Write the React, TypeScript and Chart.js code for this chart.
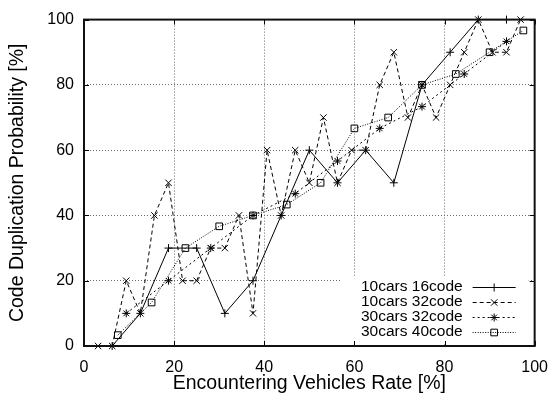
import React, { useEffect, useRef } from 'react';
import { Chart, registerables } from 'chart.js';

Chart.register(...registerables);

const FONT = '"Liberation Sans", Arial, Helvetica, sans-serif';

// Axis ticks
const xTicks = [0, 20, 40, 60, 80, 100];
const yTicks = [0, 20, 40, 60, 80, 100];
const xTitle = 'Encountering Vehicles Rate [%]';
const yTitle = 'Code Duplication Probability [%]';

// Series labels
const seriesLabels = ['10cars 16code', '10cars 32code', '30cars 32code', '30cars 40code'];

// 10cars 16code
const s1X = [6.25, 12.5, 18.75, 25, 31.25, 37.5, 43.75, 50, 56.25, 62.5, 68.75, 75, 81.25, 87.5, 93.75];
const s1Y = [0, 10, 30, 30, 10, 20, 40, 60, 50, 60, 50, 80, 90, 100, 100];

// 10cars 32code
const s2X = [3.125, 6.25, 9.375, 12.5, 15.625, 18.75, 21.875, 25, 28.125, 31.25, 34.375, 37.5, 40.625, 43.75, 46.875, 50,
  53.125, 56.25, 59.375, 62.5, 65.625, 68.75, 71.875, 75, 78.125, 81.25, 84.375, 87.5, 90.625, 93.75, 96.875];
const s2Y = [0, 0, 20, 10, 40, 50, 20, 20, 30, 30, 40, 10, 60, 40, 60, 50,
  70, 50, 60, 60, 80, 90, 70, 80, 70, 80, 90, 100, 90, 90, 100];

// 30cars 32code
const s3X = [9.375, 18.75, 28.125, 37.5, 46.875, 56.25, 65.625, 75, 84.375, 93.75];
const s3Y = [10, 20, 30, 40, 46.67, 56.67, 66.67, 73.33, 83.33, 93.33];

// 30cars 40code
const s4X = [7.5, 15, 22.5, 30, 37.5, 45, 52.5, 60, 67.5, 75, 82.5, 90, 97.5];
const s4Y = [3.33, 13.33, 30, 36.67, 40, 43.33, 50, 66.67, 70, 80, 83.33, 90, 96.67];

const pts = (xs: number[], ys: number[]) => xs.map((x, i) => ({ x, y: ys[i] }));

const dashes = [[], [4, 3], [2, 3], [1, 1.5]];
const styles = ['cross', 'crossRot', 'star', 'rect'];
const radii = [4, 4.5, 4, 4.7];

function drawMarker(ctx: CanvasRenderingContext2D, kind: string, x: number, y: number, r: number) {
  ctx.save();
  ctx.setLineDash([]);
  ctx.lineWidth = 1;
  ctx.strokeStyle = '#000';
  ctx.beginPath();
  if (kind === 'cross' || kind === 'star') {
    ctx.moveTo(x - r, y); ctx.lineTo(x + r, y);
    ctx.moveTo(x, y - r); ctx.lineTo(x, y + r);
  }
  if (kind === 'crossRot' || kind === 'star') {
    const d = r * Math.SQRT1_2;
    ctx.moveTo(x - d, y - d); ctx.lineTo(x + d, y + d);
    ctx.moveTo(x - d, y + d); ctx.lineTo(x + d, y - d);
  }
  if (kind === 'rect') {
    const s = r * Math.SQRT1_2;
    ctx.rect(x - s, y - s, 2 * s, 2 * s);
  }
  ctx.stroke();
  ctx.restore();
}

const gnuplotFrame = {
  id: 'gnuplotFrame',
  beforeDatasetsDraw(chart: any) {
    const { ctx, chartArea: a } = chart;
    ctx.save();
    ctx.fillStyle = '#fff';
    ctx.fillRect(a.right - 194, a.bottom - 69, 188, 67);
    ctx.restore();
  },
  afterDatasetsDraw(chart: any) {
    const { ctx, chartArea: a, scales } = chart;
    ctx.save();
    // inward ticks
    ctx.strokeStyle = '#000';
    ctx.lineWidth = 1;
    ctx.beginPath();
    xTicks.forEach((v) => {
      const px = Math.round(scales.x.getPixelForValue(v)) + 0.5;
      ctx.moveTo(px, a.bottom); ctx.lineTo(px, a.bottom - 5);
      ctx.moveTo(px, a.top); ctx.lineTo(px, a.top + 5);
    });
    yTicks.forEach((v) => {
      const py = Math.round(scales.y.getPixelForValue(v)) + 0.5;
      ctx.moveTo(a.left, py); ctx.lineTo(a.left + 5, py);
      ctx.moveTo(a.right, py); ctx.lineTo(a.right - 5, py);
    });
    ctx.stroke();
    // border
    ctx.lineWidth = 2;
    ctx.strokeStyle = '#111';
    ctx.strokeRect(a.left, a.top, a.right - a.left, a.bottom - a.top);
    // key
    ctx.font = `15.5px ${FONT}`;
    ctx.fillStyle = '#000';
    ctx.textAlign = 'right';
    ctx.textBaseline = 'middle';
    seriesLabels.forEach((lab, i) => {
      const y = a.bottom - 59 + i * 15;
      ctx.fillText(lab, a.right - 72, y);
      ctx.save();
      ctx.setLineDash(dashes[i]);
      ctx.lineWidth = 1;
      ctx.strokeStyle = '#000';
      ctx.beginPath();
      ctx.moveTo(a.right - 62, y + 0.5);
      ctx.lineTo(a.right - 19, y + 0.5);
      ctx.stroke();
      ctx.restore();
      drawMarker(ctx, styles[i], a.right - 40.5, y + 0.5, radii[i]);
    });
    ctx.restore();
  },
};

export default function App() {
  const ref = useRef<HTMLCanvasElement>(null);
  useEffect(() => {
    if (!ref.current) return;
    const data = [pts(s1X, s1Y), pts(s2X, s2Y), pts(s3X, s3Y), pts(s4X, s4Y)];
    const chart = new Chart(ref.current, {
      type: 'line',
      data: {
        datasets: data.map((d, i) => ({
          label: seriesLabels[i],
          data: d,
          borderColor: '#000',
          borderWidth: 1,
          borderDash: dashes[i],
          pointStyle: styles[i] as any,
          pointRadius: radii[i],
          pointBorderWidth: 1,
          pointBorderColor: '#000',
          pointBackgroundColor: 'rgba(0,0,0,0)',
          tension: 0,
          fill: false,
          clip: false as any,
        })),
      },
      plugins: [gnuplotFrame],
      options: {
        animation: false,
        responsive: false,
        devicePixelRatio: 1,
        layout: { padding: { left: 0, top: 15, right: 16, bottom: 0 } },
        plugins: { legend: { display: false }, tooltip: { enabled: false } },
        scales: {
          x: {
            type: 'linear',
            min: 0,
            max: 100,
            afterFit: (s: any) => { s.height = 50; },
            afterBuildTicks: (s: any) => { s.ticks = xTicks.map((v) => ({ value: v })); },
            ticks: { color: '#000', padding: 12, font: { family: FONT, size: 16 } },
            grid: { color: '#6a6a6a', lineWidth: 1, drawTicks: false },
            border: { display: false, dash: [1, 2] },
            title: { display: true, text: xTitle, color: '#000', padding: { top: 0, bottom: 1 }, font: { family: FONT, size: 19.5 } },
          },
          y: {
            type: 'linear',
            min: 0,
            max: 100,
            afterFit: (s: any) => { s.width = 84; },
            afterBuildTicks: (s: any) => { s.ticks = yTicks.map((v) => ({ value: v })); },
            ticks: { color: '#000', padding: 10, font: { family: FONT, size: 16 } },
            grid: { color: '#6a6a6a', lineWidth: 1, drawTicks: false },
            border: { display: false, dash: [1, 2] },
            title: { display: true, text: yTitle, color: '#000', padding: { top: 6, bottom: 0 }, font: { family: FONT, size: 19.5 } },
          },
        },
      },
    });
    return () => chart.destroy();
  }, []);
  return (
    <div style={{ position: 'fixed', left: 0, top: 0, width: 560, height: 396, background: '#fff' }}>
      <canvas ref={ref} width={560} height={396} style={{ display: 'block' }} />
    </div>
  );
}
